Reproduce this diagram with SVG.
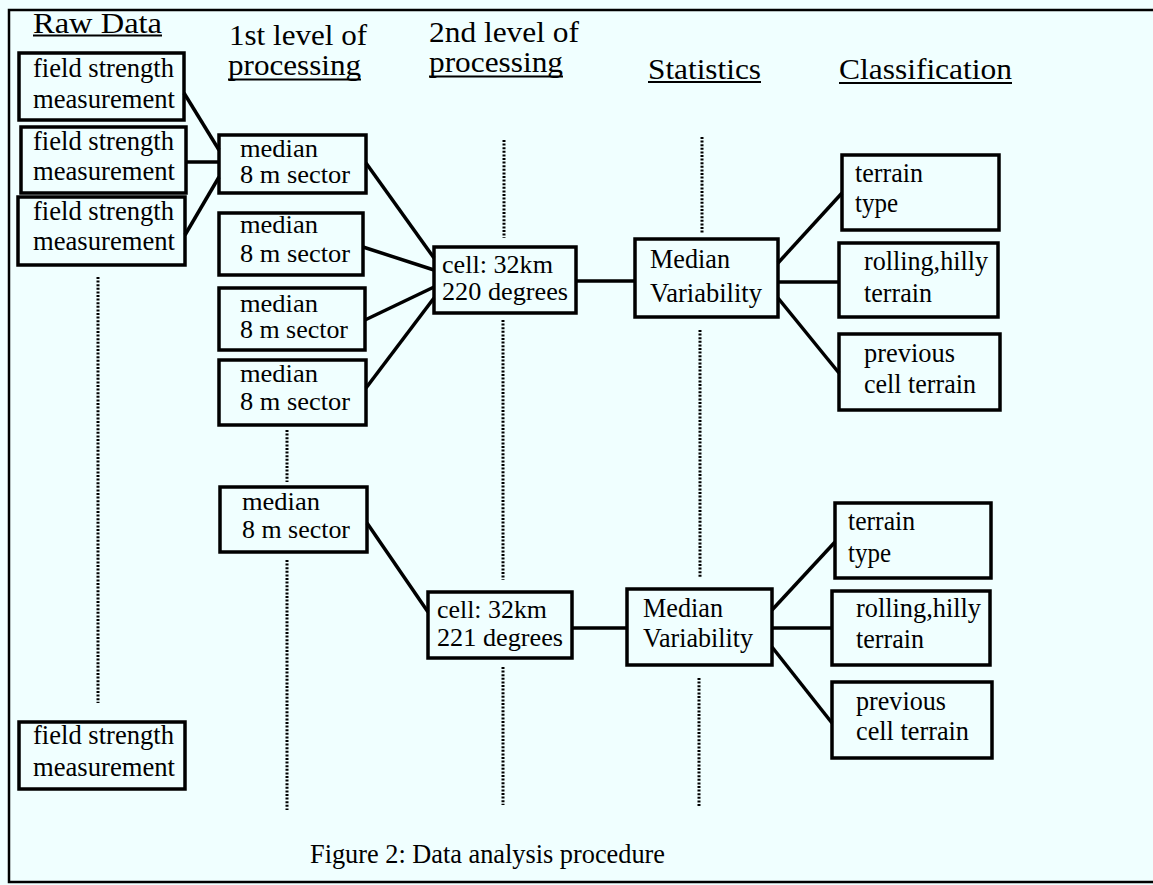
<svg xmlns="http://www.w3.org/2000/svg" width="1153" height="885" viewBox="0 0 1153 885">
<style>
.bx{fill:none;stroke:#000;stroke-width:3.5}
.t{font-family:"Liberation Serif","Times New Roman",serif;font-size:27px;fill:#000}
.s{font-size:25px}
.h{font-family:"Liberation Serif","Times New Roman",serif;font-size:29px;fill:#000}
.ul{stroke:#000;stroke-width:2}
.c{stroke:#000;stroke-width:3.5;fill:none}
.d{stroke:#000;stroke-width:3;stroke-dasharray:2 1.6;fill:none}
.fr{stroke:#000;stroke-width:2.5;fill:none}
</style>
<rect width="1153" height="885" fill="#f0ffff"/>
<g id="frame">
<polyline class="fr" points="1153,10 9,10 9,882 1153,882"/>
</g>
<g id="headers">
<text class="h" x="33" y="33" textLength="129" lengthAdjust="spacingAndGlyphs">Raw Data</text>
<line class="ul" x1="33" y1="35.5" x2="162" y2="35.5"/>
<text class="h" x="229" y="45" textLength="138" lengthAdjust="spacingAndGlyphs">1st level of</text>
<text class="h" x="228" y="75" textLength="133" lengthAdjust="spacingAndGlyphs">processing</text>
<line class="ul" x1="228" y1="79.5" x2="361" y2="79.5"/>
<text class="h" x="429" y="42" textLength="150" lengthAdjust="spacingAndGlyphs">2nd level of</text>
<text class="h" x="429" y="72" textLength="134" lengthAdjust="spacingAndGlyphs">processing</text>
<line class="ul" x1="429" y1="76.5" x2="563" y2="76.5"/>
<text class="h" x="648" y="79" textLength="113" lengthAdjust="spacingAndGlyphs">Statistics</text>
<line class="ul" x1="648" y1="82" x2="761" y2="82"/>
<text class="h" x="839" y="79" textLength="173" lengthAdjust="spacingAndGlyphs">Classification</text>
<line class="ul" x1="839" y1="83" x2="1012" y2="83"/>
</g>
<g id="connectors">
<line class="c" x1="184" y1="93" x2="219" y2="150"/>
<line class="c" x1="186" y1="162" x2="219" y2="162"/>
<line class="c" x1="185" y1="235" x2="219" y2="177"/>
<line class="c" x1="366" y1="163" x2="434" y2="258"/>
<line class="c" x1="363" y1="247" x2="434" y2="270"/>
<line class="c" x1="365" y1="320" x2="434" y2="287"/>
<line class="c" x1="366" y1="388" x2="434" y2="298"/>
<line class="c" x1="576" y1="281" x2="635" y2="281"/>
<line class="c" x1="778" y1="263" x2="842" y2="193"/>
<line class="c" x1="778" y1="282" x2="839" y2="282"/>
<line class="c" x1="778" y1="298" x2="839" y2="373"/>
<line class="c" x1="367" y1="523" x2="428" y2="612"/>
<line class="c" x1="572" y1="628" x2="627" y2="628"/>
<line class="c" x1="772" y1="610" x2="835" y2="542"/>
<line class="c" x1="772" y1="628" x2="832" y2="628"/>
<line class="c" x1="772" y1="647" x2="832" y2="723"/>
</g>
<g id="dotted">
<line class="d" x1="98" y1="277" x2="98" y2="703"/>
<line class="d" x1="287" y1="430" x2="287" y2="482"/>
<line class="d" x1="287" y1="560" x2="287" y2="810"/>
<line class="d" x1="504" y1="140" x2="504" y2="238"/>
<line class="d" x1="503" y1="320" x2="503" y2="580"/>
<line class="d" x1="503" y1="667" x2="503" y2="805"/>
<line class="d" x1="702" y1="137" x2="702" y2="233"/>
<line class="d" x1="700" y1="330" x2="700" y2="578"/>
<line class="d" x1="699" y1="678" x2="699" y2="807"/>
</g>
<g id="field1"><rect class="bx" x="19" y="53" width="165" height="67"/>
<text class="t" x="33" y="77" textLength="141" lengthAdjust="spacingAndGlyphs">field strength</text>
<text class="t" x="33" y="108" textLength="142" lengthAdjust="spacingAndGlyphs">measurement</text></g>
<g id="field2"><rect class="bx" x="21" y="127" width="165" height="66"/>
<text class="t" x="33" y="150" textLength="141" lengthAdjust="spacingAndGlyphs">field strength</text>
<text class="t" x="33" y="180" textLength="142" lengthAdjust="spacingAndGlyphs">measurement</text></g>
<g id="field3"><rect class="bx" x="18" y="197" width="167" height="68"/>
<text class="t" x="33" y="220" textLength="141" lengthAdjust="spacingAndGlyphs">field strength</text>
<text class="t" x="33" y="250" textLength="142" lengthAdjust="spacingAndGlyphs">measurement</text></g>
<g id="field4"><rect class="bx" x="19" y="722" width="166" height="67"/>
<text class="t" x="33" y="744" textLength="141" lengthAdjust="spacingAndGlyphs">field strength</text>
<text class="t" x="33" y="776" textLength="142" lengthAdjust="spacingAndGlyphs">measurement</text></g>
<g id="median1"><rect class="bx" x="219" y="135" width="147" height="58"/>
<text class="t s" x="240" y="157" textLength="78" lengthAdjust="spacingAndGlyphs">median</text>
<text class="t s" x="240" y="183" textLength="110" lengthAdjust="spacingAndGlyphs">8 m sector</text></g>
<g id="median2"><rect class="bx" x="219" y="213" width="144" height="62"/>
<text class="t s" x="240" y="233" textLength="78" lengthAdjust="spacingAndGlyphs">median</text>
<text class="t s" x="240" y="262" textLength="110" lengthAdjust="spacingAndGlyphs">8 m sector</text></g>
<g id="median3"><rect class="bx" x="219" y="288" width="146" height="62"/>
<text class="t s" x="240" y="312" textLength="78" lengthAdjust="spacingAndGlyphs">median</text>
<text class="t s" x="240" y="338" textLength="108" lengthAdjust="spacingAndGlyphs">8 m sector</text></g>
<g id="median4"><rect class="bx" x="219" y="360" width="147" height="65"/>
<text class="t s" x="240" y="382" textLength="78" lengthAdjust="spacingAndGlyphs">median</text>
<text class="t s" x="240" y="410" textLength="110" lengthAdjust="spacingAndGlyphs">8 m sector</text></g>
<g id="median5"><rect class="bx" x="220" y="487" width="147" height="65"/>
<text class="t s" x="242" y="510" textLength="78" lengthAdjust="spacingAndGlyphs">median</text>
<text class="t s" x="242" y="538" textLength="108" lengthAdjust="spacingAndGlyphs">8 m sector</text></g>
<g id="cell1"><rect class="bx" x="434" y="247" width="142" height="66"/>
<text class="t s" x="442" y="273" textLength="111" lengthAdjust="spacingAndGlyphs">cell: 32km</text>
<text class="t s" x="442" y="300" textLength="126" lengthAdjust="spacingAndGlyphs">220 degrees</text></g>
<g id="cell2"><rect class="bx" x="428" y="592" width="144" height="66"/>
<text class="t s" x="437" y="618" textLength="110" lengthAdjust="spacingAndGlyphs">cell: 32km</text>
<text class="t s" x="437" y="646" textLength="126" lengthAdjust="spacingAndGlyphs">221 degrees</text></g>
<g id="mv1"><rect class="bx" x="635" y="239" width="143" height="78"/>
<text class="t" x="650" y="268" textLength="80" lengthAdjust="spacingAndGlyphs">Median</text>
<text class="t" x="650" y="302" textLength="112" lengthAdjust="spacingAndGlyphs">Variability</text></g>
<g id="mv2"><rect class="bx" x="627" y="589" width="145" height="76"/>
<text class="t" x="643" y="617" textLength="80" lengthAdjust="spacingAndGlyphs">Median</text>
<text class="t" x="643" y="647" textLength="110" lengthAdjust="spacingAndGlyphs">Variability</text></g>
<g id="terrain1"><rect class="bx" x="842" y="155" width="157" height="75"/>
<text class="t" x="855" y="182" textLength="68" lengthAdjust="spacingAndGlyphs">terrain</text>
<text class="t" x="855" y="212" textLength="43" lengthAdjust="spacingAndGlyphs">type</text></g>
<g id="rolling1"><rect class="bx" x="839" y="243" width="159" height="74"/>
<text class="t" x="864" y="270" textLength="124" lengthAdjust="spacingAndGlyphs">rolling,hilly</text>
<text class="t" x="864" y="302" textLength="68" lengthAdjust="spacingAndGlyphs">terrain</text></g>
<g id="previous1"><rect class="bx" x="839" y="334" width="161" height="76"/>
<text class="t" x="864" y="362" textLength="91" lengthAdjust="spacingAndGlyphs">previous</text>
<text class="t" x="864" y="393" textLength="112" lengthAdjust="spacingAndGlyphs">cell terrain</text></g>
<g id="terrain2"><rect class="bx" x="835" y="503" width="156" height="75"/>
<text class="t" x="848" y="530" textLength="67" lengthAdjust="spacingAndGlyphs">terrain</text>
<text class="t" x="848" y="562" textLength="43" lengthAdjust="spacingAndGlyphs">type</text></g>
<g id="rolling2"><rect class="bx" x="832" y="591" width="158" height="74"/>
<text class="t" x="856" y="617" textLength="125" lengthAdjust="spacingAndGlyphs">rolling,hilly</text>
<text class="t" x="856" y="648" textLength="68" lengthAdjust="spacingAndGlyphs">terrain</text></g>
<g id="previous2"><rect class="bx" x="832" y="682" width="160" height="76"/>
<text class="t" x="856" y="710" textLength="90" lengthAdjust="spacingAndGlyphs">previous</text>
<text class="t" x="856" y="740" textLength="113" lengthAdjust="spacingAndGlyphs">cell terrain</text></g>
<g id="caption">
<text class="t" x="310" y="863" textLength="355" lengthAdjust="spacingAndGlyphs">Figure 2: Data analysis procedure</text>
</g>
</svg>
